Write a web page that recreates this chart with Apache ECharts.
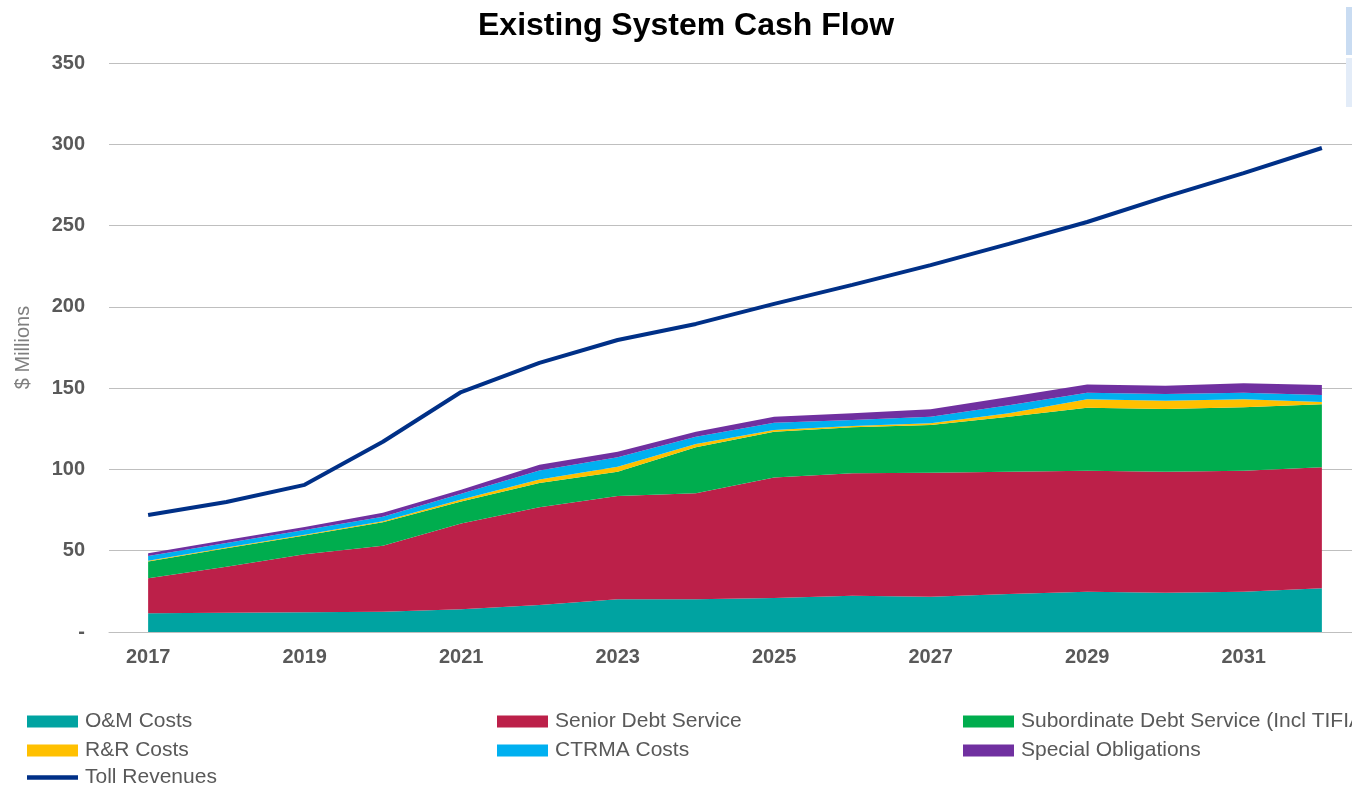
<!DOCTYPE html>
<html><head><meta charset="utf-8">
<script src="https://cdn.jsdelivr.net/npm/echarts@6/dist/echarts.min.js"></script>
<style>html,body{margin:0;padding:0;background:#fff;overflow:hidden;width:1352px;height:786px}#c{width:1362px;height:786px}</style>
</head><body><div id="c"></div>
<script>
const years = ['2017','2018','2019','2020','2021','2022','2023','2024','2025','2026','2027','2028','2029','2030','2031','2032'];
const omCosts      = [11.5, 11.9, 12.1, 12.5, 14.0, 16.6, 20.1, 20.1, 20.9, 22.3, 21.7, 23.4, 24.8, 24.2, 24.8, 26.9];
const seniorDebt   = [21.5, 28.3, 35.7, 40.6, 52.8, 60.1, 63.6, 65.2, 74.2, 75.3, 76.3, 75.2, 74.4, 74.4, 74.4, 74.4];
const subDebt      = [10.3, 11.3, 11.5, 14.4, 13.4, 15.0, 14.9, 28.3, 28.1, 28.3, 29.3, 33.8, 38.8, 38.6, 39.0, 38.8];
const rrCosts      = [0.5, 0.5, 0.5, 0.6, 1.3, 2.1, 3.1, 2.0, 1.1, 0.8, 1.1, 2.1, 5.1, 5.1, 4.9, 1.4];
const ctrmaCosts   = [2.9, 2.8, 3.0, 2.8, 3.5, 5.5, 5.8, 4.5, 4.4, 3.7, 4.0, 5.0, 4.1, 4.1, 4.1, 4.3];
const specialOblig = [1.7, 1.8, 1.8, 2.4, 2.5, 3.6, 3.4, 3.1, 3.7, 4.1, 4.6, 5.0, 5.1, 5.1, 5.8, 6.1];
const tollRevenues = [72, 80, 90.5, 117, 147.6, 165.5, 179.6, 189.5, 201.8, 213.5, 225.7, 238.7, 252.2, 267.6, 282.3, 297.7];
const yTicks = [0, 50, 100, 150, 200, 250, 300, 350];

const FONT = 'Liberation Sans, Arial, sans-serif';
const areaDefs = [
  ['O&M Costs', omCosts, '#00A3A1'],
  ['Senior Debt Service', seniorDebt, '#BC2049'],
  ['Subordinate Debt Service (Incl TIFIA)', subDebt, '#00AD4E'],
  ['R&R Costs', rrCosts, '#FFC000'],
  ['CTRMA Costs', ctrmaCosts, '#00B0F0'],
  ['Special Obligations', specialOblig, '#7030A0']
];
const series = areaDefs.map(([name, data, color]) => ({
  name, type: 'line', stack: 'costs', data, symbol: 'none',
  lineStyle: { width: 0 }, areaStyle: { color, opacity: 1 }, itemStyle: { color },
  emphasis: { disabled: true }, animation: false
}));
series.push({
  name: 'Toll Revenues', type: 'line', data: tollRevenues, symbol: 'none',
  lineStyle: { width: 4, color: '#003087' }, itemStyle: { color: '#003087' },
  animation: false, z: 5
});

const legendText = { fontFamily: FONT, fontSize: 21, lineHeight: 20, color: '#595959', padding: [0, 0, 0, 2] };
function mkLegend(left, top, names) {
  return {
    orient: 'vertical', left, top, padding: 0, itemWidth: 51, itemHeight: 12, itemGap: 8,
    textStyle: legendText, selectedMode: false,
    data: names.map(n => n === 'Toll Revenues'
      ? { name: n, icon: 'path://M0,0L51,0L51,4.5L0,4.5Z' }
      : { name: n, icon: 'rect' })
  };
}

const chart = echarts.init(document.getElementById('c'));
chart.setOption({
  animation: false,
  backgroundColor: '#fff',
  title: {
    text: 'Existing System Cash Flow', left: 473, top: 5,
    textStyle: { fontFamily: FONT, fontSize: 32, fontWeight: 'bold', color: '#000' }
  },
  legend: [
    mkLegend(27, 711, ['O&M Costs', 'R&R Costs']),
    mkLegend(497, 711, ['Senior Debt Service', 'CTRMA Costs']),
    mkLegend(963, 711, ['Subordinate Debt Service (Incl TIFIA)', 'Special Obligations']),
    mkLegend(27, 767, ['Toll Revenues'])
  ],
  grid: { left: 109, right: 1, top: 63, bottom: 154 },
  xAxis: {
    type: 'category', data: years, boundaryGap: true,
    axisLine: { lineStyle: { color: '#BFBFBF', width: 1 } },
    axisTick: { show: false },
    axisLabel: { interval: 1, margin: 15, fontFamily: FONT, fontSize: 20, fontWeight: 'bold', color: '#595959' }
  },
  yAxis: {
    type: 'value', min: yTicks[0], max: yTicks[yTicks.length - 1], interval: 50,
    name: '$ Millions', nameLocation: 'middle', nameGap: 76, nameRotate: 90,
    nameTextStyle: { fontFamily: FONT, fontSize: 20, color: '#7F7F7F' },
    axisLine: { show: false }, axisTick: { show: false },
    splitLine: { lineStyle: { color: '#BFBFBF', width: 1 } },
    axisLabel: {
      margin: 24, fontFamily: FONT, fontSize: 20, fontWeight: 'bold', color: '#595959',
      formatter: v => v === 0 ? '-' : String(v)
    }
  },
  graphic: [
    { type: 'rect', shape: { x: 1346, y: 7, width: 6, height: 48 }, style: { fill: '#C9DCF2' }, silent: true, z: 100 },
    { type: 'rect', shape: { x: 1346, y: 58, width: 6, height: 49 }, style: { fill: '#E3ECF8' }, silent: true, z: 100 }
  ],
  series
});
</script></body></html>
